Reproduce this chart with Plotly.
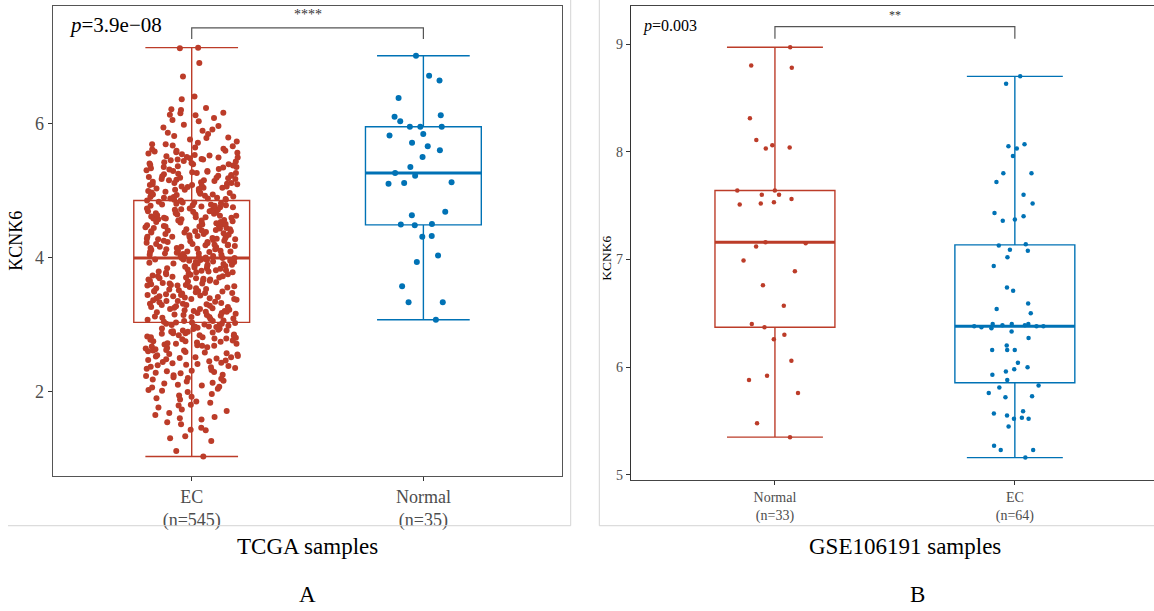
import numpy as np
import plotly.graph_objects as go

W, H = 1154, 611
RED = "#BC3C29"
BLUE = "#0072B5"
FONT = "Liberation Serif"

# ---------------- data ----------------
tcga_groups = ["EC", "Normal"]
tcga_n_labels = ["(n=545)", "(n=35)"]
tcga_ticks = [2, 4, 6]
tcga_p = "3.9e\u221208"
tcga_sig = "****"

tcga_ec = [
    1.03, 1.11, 1.26, 1.30, 1.33, 1.42, 1.43, 1.46, 1.51, 1.54, 1.58,
    1.60, 1.62, 1.65, 1.68, 1.71, 1.73, 1.76, 1.79, 1.80, 1.83, 1.85, 1.88,
    1.90, 1.92, 1.94, 1.96, 1.99,
    2.01, 2.02, 2.04, 2.06, 2.07, 2.09,
    2.10, 2.12, 2.13, 2.15, 2.16, 2.18, 2.19,
    2.20, 2.21, 2.23, 2.24, 2.25, 2.27, 2.28, 2.29,
    2.30, 2.31, 2.32, 2.34, 2.35, 2.36, 2.37, 2.38, 2.39,
    2.40, 2.41, 2.42, 2.43, 2.44, 2.45, 2.46, 2.47, 2.48, 2.49,
    2.50, 2.51, 2.51, 2.52, 2.53, 2.54, 2.55, 2.56, 2.57, 2.58, 2.59,
    2.60, 2.61, 2.61, 2.62, 2.63, 2.64, 2.65, 2.66, 2.67, 2.68, 2.68, 2.69,
    2.70, 2.71, 2.71, 2.72, 2.73, 2.74, 2.75, 2.75, 2.76, 2.77, 2.78, 2.79, 2.79,
    2.80, 2.81, 2.81, 2.82, 2.83, 2.84, 2.84, 2.85, 2.86, 2.87, 2.87, 2.88, 2.89, 2.89,
    2.90, 2.91, 2.91, 2.92, 2.93, 2.94, 2.94, 2.95, 2.96, 2.97, 2.97, 2.98, 2.99, 2.99,
    3.00, 3.01, 3.01, 3.02,
    3.03,
    3.03, 3.04, 3.05, 3.05, 3.06, 3.07, 3.08, 3.09,
    3.10, 3.11, 3.11, 3.12, 3.13, 3.14, 3.14, 3.15, 3.16, 3.17, 3.17, 3.18, 3.19, 3.19,
    3.20, 3.20, 3.21, 3.22, 3.23, 3.23, 3.24, 3.25, 3.26, 3.26, 3.27, 3.28, 3.29, 3.29,
    3.30, 3.31, 3.31, 3.32, 3.33, 3.34, 3.35, 3.35, 3.36, 3.37, 3.38, 3.38, 3.39, 3.39,
    3.40, 3.41, 3.42, 3.42, 3.43, 3.44, 3.44, 3.45, 3.46, 3.47, 3.47, 3.48, 3.49, 3.49,
    3.50, 3.50, 3.51, 3.52, 3.53, 3.54, 3.54, 3.55, 3.56, 3.57, 3.58, 3.58, 3.59, 3.59,
    3.60, 3.61, 3.61, 3.62, 3.63, 3.64, 3.65, 3.65, 3.66, 3.67, 3.67, 3.68, 3.69, 3.69,
    3.70, 3.70, 3.71, 3.72, 3.72, 3.73, 3.74, 3.75, 3.75, 3.76, 3.77, 3.78, 3.78, 3.79, 3.79,
    3.80, 3.81, 3.81, 3.82, 3.83, 3.84, 3.84, 3.85, 3.86, 3.87, 3.87, 3.88, 3.89, 3.89,
    3.90, 3.91, 3.91, 3.92, 3.93, 3.93, 3.94, 3.95, 3.95, 3.96, 3.96, 3.97, 3.97, 3.98,
    3.99,
    3.99, 3.99,
    4.00, 4.01, 4.01, 4.02, 4.03, 4.04, 4.04, 4.05, 4.06, 4.06, 4.07, 4.08, 4.08, 4.09, 4.09,
    4.10, 4.10, 4.11, 4.12, 4.12, 4.13, 4.14, 4.14, 4.15, 4.16, 4.16, 4.17, 4.18, 4.18, 4.19, 4.19,
    4.20, 4.20, 4.21, 4.22, 4.23, 4.23, 4.24, 4.25, 4.25, 4.26, 4.27, 4.27, 4.28, 4.28, 4.29, 4.29,
    4.30, 4.31, 4.31, 4.32, 4.32, 4.33, 4.34, 4.35, 4.35, 4.36, 4.37, 4.37, 4.38, 4.39, 4.39, 4.39,
    4.40, 4.40, 4.41, 4.42, 4.42, 4.43, 4.44, 4.44, 4.45, 4.46, 4.46, 4.47, 4.48, 4.48, 4.49, 4.49,
    4.50, 4.51, 4.51, 4.52, 4.53, 4.53, 4.54, 4.55, 4.55, 4.56, 4.57, 4.57, 4.58, 4.58, 4.59, 4.59,
    4.60, 4.60, 4.61, 4.62, 4.62, 4.63, 4.64, 4.64, 4.65, 4.66, 4.66, 4.67, 4.68, 4.68, 4.69, 4.69,
    4.70, 4.71, 4.71, 4.72, 4.73, 4.73, 4.74, 4.75, 4.75, 4.76, 4.77, 4.77, 4.78, 4.78, 4.79, 4.79,
    4.80, 4.81, 4.82, 4.82, 4.83, 4.84,
    4.85,
    4.85, 4.86, 4.86, 4.87, 4.88, 4.88, 4.89, 4.89,
    4.90, 4.90, 4.91, 4.92, 4.92, 4.93, 4.94, 4.94, 4.95, 4.96, 4.96, 4.97, 4.98, 4.98, 4.99,
    5.00, 5.01, 5.01, 5.02, 5.03, 5.04, 5.04, 5.05, 5.06, 5.06, 5.07, 5.08, 5.08, 5.09, 5.09,
    5.10, 5.11, 5.11, 5.12, 5.13, 5.14, 5.15, 5.15, 5.16, 5.17, 5.17, 5.18, 5.19, 5.19,
    5.20, 5.21, 5.22, 5.22, 5.23, 5.24, 5.25, 5.26, 5.26, 5.27, 5.28, 5.29, 5.29,
    5.30, 5.31, 5.32, 5.33, 5.34, 5.35, 5.35, 5.36, 5.37, 5.38, 5.39, 5.39,
    5.40, 5.41, 5.42, 5.43, 5.44, 5.45, 5.46, 5.46, 5.47, 5.48, 5.49, 5.49,
    5.50, 5.51, 5.52, 5.53, 5.54, 5.55, 5.56, 5.57, 5.58, 5.59, 5.59,
    5.61, 5.62, 5.64, 5.66, 5.67, 5.69, 5.69,
    5.71, 5.73, 5.76, 5.78, 5.79,
    5.81, 5.84, 5.86, 5.89,
    5.91, 5.94, 5.96, 5.98,
    6.03, 6.05, 6.08,
    6.12, 6.13, 6.15, 6.16,
    6.20, 6.21, 6.23,
    6.36, 6.40, 6.70, 6.90, 7.12, 7.13,
]
tcga_normal = [7.01, 6.71, 6.64, 6.38, 6.12, 6.10, 6.03, 5.95, 5.95, 5.95, 5.84, 5.82,
               5.71, 5.66, 5.60, 5.50, 5.35, 5.26, 5.22, 5.12, 5.11, 5.10, 4.68, 4.63,
               4.50, 4.49, 4.48, 4.32, 4.31, 4.03, 3.93, 3.57, 3.33, 3.33, 3.07]

gse_groups = ["Normal", "EC"]
gse_n_labels = ["(n=33)", "(n=64)"]
gse_ticks = [5, 6, 7, 8, 9]
gse_p = "0.003"
gse_sig = "**"

gse_normal = [8.97, 8.80, 8.78, 8.31, 8.11, 8.06, 8.04, 8.03, 7.64, 7.64, 7.60, 7.60,
              7.56, 7.53, 7.52, 7.51, 7.16, 7.15, 7.12, 6.99, 6.89, 6.76, 6.57, 6.40,
              6.37, 6.30, 6.26, 6.06, 5.92, 5.88, 5.76, 5.48, 5.35]
gse_ec = [8.70, 8.63, 8.07, 8.05, 8.03, 7.96, 7.80, 7.80, 7.72, 7.60, 7.52, 7.43, 7.40,
          7.37, 7.36, 7.14, 7.13, 7.09, 7.08, 7.02, 6.94, 6.74, 6.71, 6.59, 6.54, 6.50,
          6.40, 6.40, 6.40, 6.39, 6.39, 6.38, 6.38, 6.38, 6.37, 6.36, 6.33, 6.27, 6.20,
          6.16, 6.16, 6.16, 6.04, 6.00, 5.98, 5.96, 5.93, 5.88, 5.83, 5.81, 5.76, 5.73,
          5.72, 5.59, 5.57, 5.55, 5.53, 5.52, 5.52, 5.45, 5.27, 5.23, 5.23, 5.16]

assert len(tcga_ec) == 545, len(tcga_ec)
assert len(tcga_normal) == 35
assert len(gse_normal) == 33
assert len(gse_ec) == 64


def fx(px):
    return px / W


def fy(py):
    return 1 - py / H


fig = go.Figure()
shapes = []
BOXW = 0.5


def add_box(vals, pos, color, xa, ya, msize):
    fig.add_trace(go.Box(
        y=vals, x0=pos, boxpoints="all", jitter=0.8, pointpos=0,
        quartilemethod="inclusive",
        width=BOXW, whiskerwidth=0.8,
        line=dict(color=color, width=1.4),
        fillcolor="rgba(255,255,255,0)",
        marker=dict(color=color, size=msize, line=dict(width=0)),
        xaxis=xa, yaxis=ya, showlegend=False, hoverinfo="y",
    ))
    med = float(np.median(vals))
    shapes.append(dict(type="line", xref=xa, yref=ya, layer="below",
                       x0=pos - BOXW / 2, x1=pos + BOXW / 2, y0=med, y1=med,
                       line=dict(color=color, width=3)))


tcga_sets = [tcga_ec, tcga_normal]
tcga_cols = [RED, BLUE]
for i, (vals, col) in enumerate(zip(tcga_sets, tcga_cols)):
    add_box(vals, i + 1, col, "x", "y", 6)

gse_sets = [gse_normal, gse_ec]
gse_cols = [RED, BLUE]
for i, (vals, col) in enumerate(zip(gse_sets, gse_cols)):
    add_box(vals, i + 1, col, "x2", "y2", 4.5)

tick_font_a = dict(family=FONT, size=18, color="#4d4d4d")
tick_font_b = dict(family=FONT, size=14, color="#4d4d4d")

fig.update_layout(
    width=W, height=H, margin=dict(l=0, r=0, t=0, b=0),
    paper_bgcolor="white", plot_bgcolor="white",
    xaxis=dict(domain=[fx(52.7), fx(562.4)], range=[0.4, 2.6],
               tickvals=[1, 2],
               ticktext=[f"{g}<br>{n}" for g, n in zip(tcga_groups, tcga_n_labels)],
               showline=True, mirror=True, linecolor="#555555", linewidth=1.3,
               ticks="outside", ticklen=4, tickcolor="#333333", tickwidth=1,
               tickfont=tick_font_a, showgrid=False, zeroline=False, anchor="y"),
    yaxis=dict(domain=[fy(478.3), fy(6)], range=[0.739, 7.752],
               tickvals=tcga_ticks,
               showline=True, mirror=True, linecolor="#555555", linewidth=1.3,
               ticks="outside", ticklen=4, tickcolor="#333333", tickwidth=1,
               tickfont=tick_font_a, showgrid=False, zeroline=False, anchor="x"),
    xaxis2=dict(domain=[fx(631), 1.0], range=[0.4, 2.58],
                tickvals=[1, 2],
                ticktext=[f"{g}<br>{n}" for g, n in zip(gse_groups, gse_n_labels)],
                showline=True, mirror=True, linecolor="#444444", linewidth=1.3,
                ticks="outside", ticklen=4, tickcolor="#333333", tickwidth=1,
                tickfont=tick_font_b, showgrid=False, zeroline=False, anchor="y2"),
    yaxis2=dict(domain=[fy(482.5), fy(5.7)], range=[4.951, 9.356],
                tickvals=gse_ticks,
                showline=True, mirror=False, linecolor="#333333", linewidth=1.3,
                ticks="outside", ticklen=4, tickcolor="#333333", tickwidth=1,
                tickfont=tick_font_b, showgrid=False, zeroline=False, anchor="x2"),
)

# significance brackets
shapes.append(dict(type="path", xref="x", yref="y",
                   path="M 1,7.26 L 1,7.425 L 2,7.425 L 2,7.26",
                   line=dict(color="#555555", width=1.2)))
shapes.append(dict(type="path", xref="x2", yref="y2",
                   path="M 1,9.049 L 1,9.162 L 2,9.162 L 2,9.049",
                   line=dict(color="#555555", width=1.2)))

# outer panel borders
GRAY = "#d4d4d4"
for (x0, y0, x1, y1) in [(8, 528.3, 570.7, 528.3), (570.7, 0, 570.7, 528.3),
                         (599.3, 0, 599.3, 528.3), (599.3, 528.3, 1154, 528.3)]:
    shapes.append(dict(type="line", xref="paper", yref="paper",
                       x0=fx(x0), y0=fy(y0), x1=fx(x1), y1=fy(y1),
                       line=dict(color=GRAY, width=1)))

fig.update_layout(shapes=shapes)

ann = []
ann.append(dict(xref="x", yref="y", x=0.46, y=7.47, xanchor="left", yanchor="middle",
                text=f"<i>p</i>={tcga_p}", showarrow=False,
                font=dict(family=FONT, size=21, color="black")))
ann.append(dict(xref="x2", yref="y2", x=0.442, y=9.169, xanchor="left", yanchor="middle",
                text=f"<i>p</i>={gse_p}", showarrow=False,
                font=dict(family=FONT, size=16, color="black")))
ann.append(dict(xref="x", yref="y", x=1.5, y=7.63, xanchor="center", yanchor="middle",
                text=tcga_sig, showarrow=False,
                font=dict(family=FONT, size=14, color="#333333")))
ann.append(dict(xref="x2", yref="y2", x=1.5, y=9.27, xanchor="center", yanchor="middle",
                text=gse_sig, showarrow=False,
                font=dict(family=FONT, size=12, color="#333333")))
ann.append(dict(xref="paper", yref="paper", x=fx(16), y=fy(242), textangle=-90,
                text="KCNK6", showarrow=False, xanchor="center", yanchor="middle",
                font=dict(family=FONT, size=18, color="black")))
ann.append(dict(xref="paper", yref="paper", x=fx(607), y=fy(260), textangle=-90,
                text="KCNK6", showarrow=False, xanchor="center", yanchor="middle",
                font=dict(family=FONT, size=13.5, color="black")))
for txt, x, y in [("TCGA samples", 307, 549), ("GSE106191 samples", 905, 549),
                  ("A", 307, 597), ("B", 918, 597)]:
    ann.append(dict(xref="paper", yref="paper", x=fx(x), y=fy(y), text=txt,
                    showarrow=False, xanchor="center", yanchor="middle",
                    font=dict(family=FONT, size=23, color="black")))
fig.update_layout(annotations=ann)

fig.write_html("out.html")
